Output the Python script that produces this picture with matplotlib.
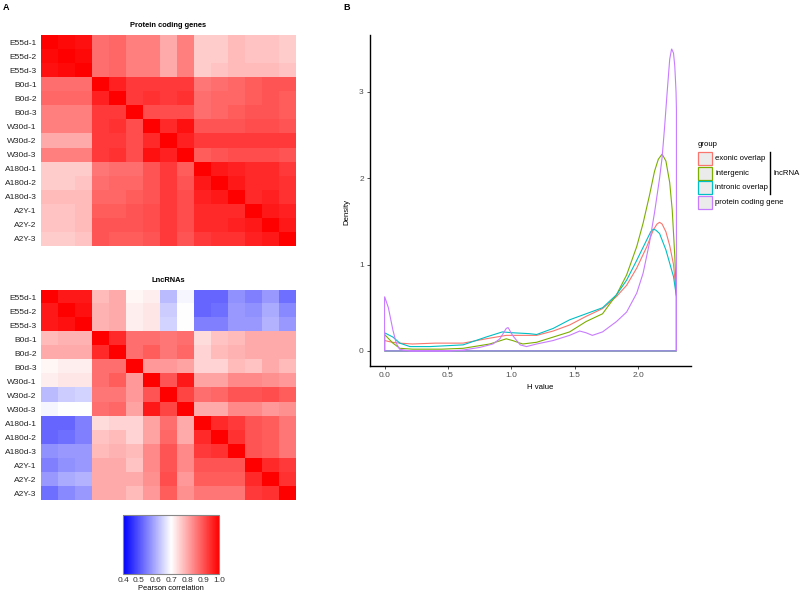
import matplotlib
matplotlib.use('Agg')
import matplotlib.pyplot as plt
import numpy as np
from matplotlib.colors import LinearSegmentedColormap
from matplotlib.patches import Rectangle
from matplotlib.lines import Line2D

plt.rcParams['font.family'] = ['Liberation Sans', 'DejaVu Sans']

# sample names (rows / columns of both heatmaps)
samples = ['E55d-1', 'E55d-2', 'E55d-3', 'B0d-1', 'B0d-2', 'B0d-3',
           'W30d-1', 'W30d-2', 'W30d-3', 'A180d-1', 'A180d-2', 'A180d-3',
           'A2Y-1', 'A2Y-2', 'A2Y-3']

# Pearson correlations, lower triangle (row i has i+1 values)
pcg_lower = [
    [1.00],
    [0.99, 1.00],
    [0.98, 0.99, 1.00],
    [0.87, 0.87, 0.87, 1.00],
    [0.88, 0.88, 0.88, 0.96, 1.00],
    [0.85, 0.85, 0.85, 0.93, 0.93, 1.00],
    [0.85, 0.85, 0.85, 0.93, 0.94, 0.91, 1.00],
    [0.80, 0.80, 0.80, 0.93, 0.93, 0.91, 0.95, 1.00],
    [0.85, 0.85, 0.85, 0.93, 0.94, 0.91, 0.98, 0.96, 1.00],
    [0.76, 0.76, 0.76, 0.86, 0.87, 0.87, 0.90, 0.93, 0.89, 1.00],
    [0.76, 0.76, 0.77, 0.87, 0.88, 0.88, 0.90, 0.93, 0.90, 0.97, 1.00],
    [0.78, 0.78, 0.78, 0.88, 0.88, 0.89, 0.90, 0.93, 0.91, 0.96, 0.97, 1.00],
    [0.77, 0.77, 0.78, 0.89, 0.89, 0.90, 0.91, 0.93, 0.91, 0.95, 0.95, 0.95, 1.00],
    [0.77, 0.77, 0.78, 0.90, 0.90, 0.90, 0.91, 0.93, 0.91, 0.95, 0.95, 0.96, 0.97, 1.00],
    [0.76, 0.76, 0.77, 0.90, 0.89, 0.89, 0.90, 0.93, 0.90, 0.93, 0.94, 0.94, 0.96, 0.97, 1.00],
]

lnc_lower = [
    [1.00],
    [0.97, 1.00],
    [0.97, 0.98, 1.00],
    [0.78, 0.79, 0.79, 1.00],
    [0.80, 0.80, 0.80, 0.95, 1.00],
    [0.71, 0.72, 0.72, 0.87, 0.87, 1.00],
    [0.72, 0.73, 0.73, 0.87, 0.89, 0.82, 1.00],
    [0.62, 0.64, 0.65, 0.86, 0.86, 0.82, 0.90, 1.00],
    [0.69, 0.70, 0.70, 0.87, 0.88, 0.81, 0.97, 0.92, 1.00],
    [0.52, 0.52, 0.55, 0.74, 0.75, 0.75, 0.81, 0.87, 0.80, 1.00],
    [0.52, 0.53, 0.55, 0.77, 0.78, 0.75, 0.81, 0.88, 0.80, 0.95, 1.00],
    [0.57, 0.58, 0.58, 0.78, 0.79, 0.78, 0.84, 0.90, 0.84, 0.93, 0.94, 1.00],
    [0.55, 0.57, 0.58, 0.80, 0.80, 0.77, 0.84, 0.90, 0.84, 0.90, 0.90, 0.90, 1.00],
    [0.58, 0.60, 0.61, 0.80, 0.80, 0.80, 0.83, 0.91, 0.82, 0.89, 0.89, 0.89, 0.95, 1.00],
    [0.53, 0.56, 0.58, 0.80, 0.80, 0.78, 0.82, 0.89, 0.83, 0.86, 0.86, 0.86, 0.93, 0.94, 1.00],
]

cbar_ticks = [0.4, 0.5, 0.6, 0.7, 0.8, 0.9, 1.0]

# density curves of H value
groups = ['exonic overlap', 'intergenic', 'intronic overlap', 'protein coding gene']
colors = ['#F8766D', '#7CAE00', '#00BFC4', '#C77CFF']

exonic_x = [0, 0.06, 0.12, 0.22, 0.4, 0.62, 0.8, 0.96, 1.07, 1.2, 1.33, 1.46, 1.59,
            1.72, 1.83, 1.91, 1.99, 2.07, 2.12, 2.15, 2.17, 2.19, 2.22, 2.25, 2.28, 2.303]
exonic_y = [0.12, 0.10, 0.09, 0.08, 0.09, 0.09, 0.14, 0.18, 0.18, 0.18, 0.23, 0.30, 0.40,
            0.49, 0.63, 0.76, 0.96, 1.21, 1.40, 1.47, 1.49, 1.47, 1.38, 1.22, 1.00, 0.63]

intergenic_x = [0, 0.066, 0.12, 0.22, 0.45, 0.62, 0.83, 0.96, 1.01, 1.09, 1.2, 1.33, 1.46,
                1.59, 1.72, 1.83, 1.91, 1.99, 2.04, 2.09, 2.13, 2.16, 2.19, 2.22, 2.25,
                2.27, 2.29, 2.303]
intergenic_y = [0.19, 0.09, 0.03, 0.02, 0.02, 0.03, 0.08, 0.14, 0.12, 0.08, 0.10, 0.16, 0.22,
                0.34, 0.43, 0.65, 0.88, 1.21, 1.48, 1.80, 2.08, 2.22, 2.28, 2.20, 1.95,
                1.63, 1.10, 0.63]

intronic_x = [0, 0.066, 0.12, 0.2, 0.36, 0.62, 0.8, 0.93, 1.01, 1.14, 1.2, 1.33, 1.46, 1.59,
              1.72, 1.83, 1.91, 1.99, 2.07, 2.10, 2.12, 2.14, 2.17, 2.22, 2.28, 2.303]
intronic_y = [0.21, 0.16, 0.09, 0.05, 0.05, 0.07, 0.16, 0.22, 0.21, 0.20, 0.19, 0.26, 0.36, 0.43,
              0.50, 0.65, 0.82, 1.05, 1.29, 1.38, 1.41, 1.40, 1.36, 1.17, 0.86, 0.63]

protein_x = [0, 0.03, 0.066, 0.092, 0.118, 0.2, 0.5, 0.62, 0.75, 0.855, 0.91, 0.96, 0.975,
             1.01, 1.07, 1.12, 1.2, 1.33, 1.46, 1.54, 1.59, 1.64, 1.72, 1.83, 1.91, 1.99,
             2.04, 2.09, 2.13, 2.17, 2.19, 2.21, 2.23, 2.25, 2.265, 2.28, 2.29, 2.30, 2.303]
protein_y = [0.63, 0.50, 0.24, 0.09, 0.02, 0.0, 0.0, 0.01, 0.04, 0.08, 0.14, 0.26, 0.27,
             0.18, 0.07, 0.05, 0.08, 0.12, 0.18, 0.23, 0.21, 0.18, 0.22, 0.34, 0.45, 0.67,
             0.90, 1.25, 1.60, 2.00, 2.24, 2.60, 3.00, 3.38, 3.50, 3.45, 3.30, 3.00, 2.80]

curves_x = [exonic_x, intergenic_x, intronic_x, protein_x]
curves_y = [exonic_y, intergenic_y, intronic_y, protein_y]


def lower_to_full(lower):
    n = len(lower)
    m = np.zeros((n, n))
    for i, row in enumerate(lower):
        for j, v in enumerate(row):
            m[i, j] = v
            m[j, i] = v
    return m


W, H = 800, 597
fig = plt.figure(figsize=(W / 100, H / 100), dpi=100)


def box(left, top, right, bottom):
    return [left / W, 1 - bottom / H, (right - left) / W, (bottom - top) / H]


cmap = LinearSegmentedColormap.from_list('bwr2', ['#0000FF', '#FFFFFF', '#FF0000'])

# ---- panel A: heatmaps
for (top, bottom, lower, title) in [(35, 246, pcg_lower, 'Protein coding genes'),
                                    (290, 500, lnc_lower, 'LncRNAs')]:
    ax = fig.add_axes(box(41, top, 296, bottom))
    im = ax.imshow(lower_to_full(lower), cmap=cmap, vmin=0.4, vmax=1.0,
                   aspect='auto', interpolation='nearest')
    ax.set_yticks(range(len(samples)))
    ax.set_yticklabels(samples, fontsize=6, color='#222222')
    ax.set_xticks([])
    ax.tick_params(axis='y', length=0, pad=3)
    for s in ax.spines.values():
        s.set_visible(False)
    ax.set_title(title, fontsize=5.4, fontweight='bold', pad=6)

cax = fig.add_axes(box(123, 515, 219, 574))
cb = fig.colorbar(im, cax=cax, orientation='horizontal', ticks=cbar_ticks)
cb.ax.tick_params(length=0, pad=2, labelsize=6, labelcolor='#333333')
cb.outline.set_edgecolor('#888888')
cb.outline.set_linewidth(0.8)
cb.set_label('Pearson correlation', fontsize=5.4, labelpad=1)

# ---- panel B: density
ax3 = fig.add_axes(box(370, 35, 691, 366))
for xs, ys, c in zip(curves_x, curves_y, colors):
    px = np.concatenate([[xs[0]], xs, [xs[-1]]])
    py = np.concatenate([[0], ys, [0]])
    ax3.fill(px, py, facecolor='none', edgecolor=c, linewidth=0.8)
ax3.set_xlim(-0.115, 2.418)
ax3.set_ylim(-0.175, 3.66)
ax3.set_xticks([0, 0.5, 1.0, 1.5, 2.0])
ax3.set_xticklabels(['0.0', '0.5', '1.0', '1.5', '2.0'])
ax3.set_yticks([0, 1, 2, 3])
ax3.spines['top'].set_visible(False)
ax3.spines['right'].set_visible(False)
for s in ['left', 'bottom']:
    ax3.spines[s].set_linewidth(1.0)
ax3.tick_params(length=2.5, width=0.6, color='#333333', labelsize=6,
                labelcolor='#4D4D4D', pad=2)
ax3.set_xlabel('H value', fontsize=5.6)
ax3.set_ylabel('Density', fontsize=5.6)
ax3.xaxis.set_label_coords((540 - 370) / 321, (366 - 384) / 331)
ax3.yaxis.set_label_coords((350 - 370) / 321, (366 - 212) / 331)

# legend drawn in figure pixel positions
fig.text(698 / W, 1 - 145 / H, 'group', fontsize=5.6, va='center', ha='left')
for i, (g, c) in enumerate(zip(groups, colors)):
    top = 152 + 14.7 * i
    fig.add_artist(Rectangle((698 / W, 1 - (top + 13) / H), 14 / W, 13 / H,
                             transform=fig.transFigure, facecolor='#EBEBEB',
                             edgecolor=c, linewidth=0.9))
    fig.text(715 / W, 1 - (top + 6.5) / H, g, fontsize=5.6, va='center', ha='left')
fig.add_artist(Line2D([770 / W, 770 / W], [1 - 152 / H, 1 - 194 / H],
                      transform=fig.transFigure, color='black', linewidth=1.0))
fig.text(773 / W, 1 - 174 / H, 'lncRNA', fontsize=5.6, va='center', ha='left')

# panel letters
fig.text(3 / W, 1 - 7 / H, 'A', fontsize=6.5, fontweight='bold', va='center')
fig.text(343 / W, 1 - 7 / H, 'B', fontsize=6.5, fontweight='bold', va='center')

fig.savefig('out.png', dpi=100)
